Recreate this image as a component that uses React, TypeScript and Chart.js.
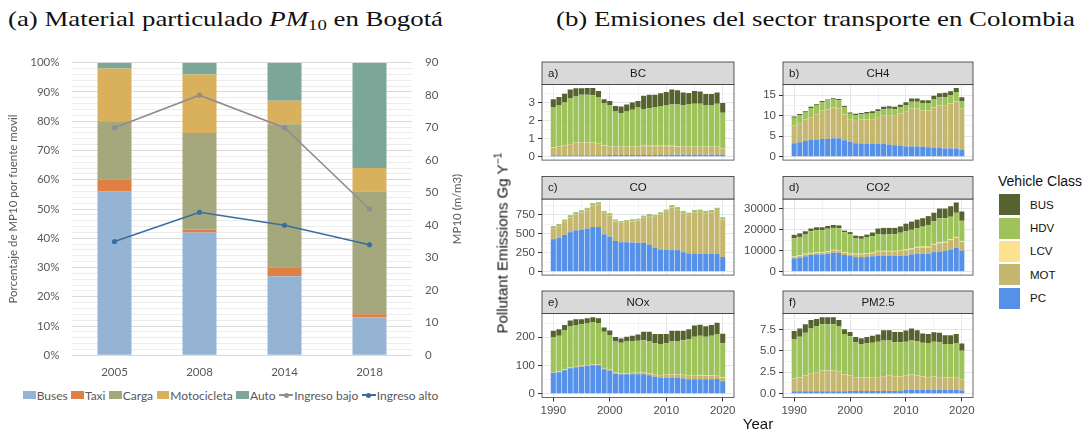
import React, { useEffect, useLayoutEffect, useRef } from 'react';
import { Chart, registerables } from 'chart.js';
Chart.register(...registerables);

// ---------------- Panel (a): PM10 in Bogotá ----------------
const surveyYears = ['2005', '2008', '2014', '2018'];
const buses = [56, 42, 27, 13];
const taxi = [4, 1, 3, 1];
const carga = [20, 33, 49, 42];
const motocicleta = [18, 20, 8, 8];
const autoShare = [2, 4, 13, 36];
const ingresoBajo = [70, 80, 70, 45];
const ingresoAlto = [35, 44, 40, 34];
const barNamesA = ['Buses', 'Taxi', 'Carga', 'Motocicleta', 'Auto'];
const barColorsA = ['#95b4d3', '#df7f44', '#a4a87c', '#d9b15c', '#7ca698'];
const lineNamesA = ['Ingreso bajo', 'Ingreso alto'];
const lineColorsA = ['#938c8f', '#3c6d9b'];

// ---------------- Panel (b): transport emissions, Colombia ----------------
const years = [
  1990, 1991, 1992, 1993, 1994, 1995, 1996, 1997, 1998, 1999,
  2000, 2001, 2002, 2003, 2004, 2005, 2006, 2007, 2008, 2009,
  2010, 2011, 2012, 2013, 2014, 2015, 2016, 2017, 2018, 2019,
  2020,
];
const vehicleClasses = ['PC', 'MOT', 'LCV', 'HDV', 'BUS']; // stack order, bottom to top
const vehicleColors = ['#5591e8', '#c5b670', '#fce28e', '#9ec35a', '#566330'];
const legendOrder = ['BUS', 'HDV', 'LCV', 'MOT', 'PC'];

// BC
const bcPC = [
  0.08, 0.08, 0.08, 0.08, 0.08, 0.08, 0.08, 0.08, 0.08, 0.08,
  0.09, 0.09, 0.09, 0.09, 0.09, 0.09, 0.09, 0.09, 0.09, 0.09,
  0.11, 0.11, 0.11, 0.11, 0.11, 0.11, 0.11, 0.11, 0.11, 0.11,
  0.11,
];
const bcMOT = [
  0.40, 0.48, 0.52, 0.60, 0.67, 0.70, 0.70, 0.70, 0.62, 0.53,
  0.47, 0.44, 0.44, 0.44, 0.44, 0.44, 0.49, 0.49, 0.49, 0.49,
  0.47, 0.47, 0.44, 0.42, 0.42, 0.42, 0.42, 0.42, 0.42, 0.42,
  0.34,
];
const bcLCV = [
  0.02, 0.02, 0.02, 0.02, 0.02, 0.02, 0.02, 0.02, 0.02, 0.02,
  0.02, 0.02, 0.02, 0.02, 0.02, 0.02, 0.02, 0.02, 0.02, 0.02,
  0.02, 0.02, 0.02, 0.02, 0.02, 0.02, 0.02, 0.02, 0.02, 0.02,
  0.02,
];
const bcHDV = [
  2.22, 2.25, 2.38, 2.52, 2.56, 2.62, 2.62, 2.60, 2.58, 2.34,
  2.27, 1.95, 1.87, 1.95, 2.05, 2.17, 2.03, 2.07, 2.12, 2.17,
  2.25, 2.28, 2.31, 2.30, 2.33, 2.38, 2.37, 2.30, 2.30, 2.38,
  1.96,
];
const bcBUS = [
  0.46, 0.47, 0.48, 0.50, 0.45, 0.36, 0.38, 0.40, 0.33, 0.21,
  0.23, 0.30, 0.35, 0.38, 0.40, 0.36, 0.74, 0.75, 0.70, 0.73,
  0.73, 0.84, 0.79, 0.70, 0.64, 0.70, 0.68, 0.62, 0.62, 0.62,
  0.54,
];

// CH4
const ch4PC = [
  3.3, 3.5, 3.8, 4.1, 4.2, 4.3, 4.4, 4.5, 4.5, 4.0,
  3.6, 3.3, 3.2, 3.1, 3.1, 3.1, 3.1, 3.0, 2.8, 2.6,
  2.5, 2.5, 2.5, 2.4, 2.3, 2.2, 2.1, 2.0, 2.0, 2.0,
  1.7,
];
const ch4MOT = [
  4.25, 4.65, 5.15, 5.55, 6.15, 6.85, 7.15, 7.45, 7.35, 6.25,
  5.55, 5.45, 5.75, 5.95, 6.05, 6.45, 6.95, 7.15, 7.35, 7.95,
  8.45, 9.15, 9.15, 8.75, 8.85, 9.75, 10.35, 10.55, 10.95, 11.45,
  9.95,
];
const ch4LCV = [
  0.05, 0.05, 0.05, 0.05, 0.05, 0.05, 0.05, 0.05, 0.05, 0.05,
  0.05, 0.05, 0.05, 0.05, 0.05, 0.05, 0.05, 0.05, 0.05, 0.05,
  0.05, 0.05, 0.05, 0.05, 0.05, 0.05, 0.05, 0.05, 0.05, 0.05,
  0.05,
];
const ch4HDV = [
  1.9, 1.9, 1.8, 2.2, 2.1, 2.1, 2.1, 2.0, 1.9, 1.8,
  1.3, 1.35, 1.35, 1.4, 1.5, 1.5, 1.5, 1.5, 1.4, 1.5,
  1.6, 1.7, 1.7, 1.8, 1.8, 2.0, 2.0, 2.0, 2.0, 2.3,
  1.9,
];
const ch4BUS = [
  0.3, 0.3, 0.3, 0.3, 0.3, 0.3, 0.3, 0.3, 0.3, 0.3,
  0.3, 0.35, 0.35, 0.4, 0.4, 0.5, 0.6, 0.6, 0.6, 0.6,
  0.7, 0.8, 0.8, 0.8, 0.8, 0.9, 1.0, 1.0, 1.0, 1.0,
  0.9,
];

// CO
const coPC = [
  429, 449, 486, 522, 546, 554, 570, 590, 590, 494,
  461, 405, 389, 389, 385, 381, 381, 357, 317, 293,
  289, 285, 285, 257, 241, 241, 237, 233, 233, 233,
  193,
];
const coMOT = [
  144, 152, 170, 193, 209, 225, 241, 285, 294, 280,
  280, 254, 254, 266, 278, 289, 328, 376, 404, 460,
  499, 564, 540, 516, 507, 543, 550, 539, 551, 579,
  492,
];
const coLCV = [
  3, 3, 3, 3, 3, 3, 3, 3, 3, 3,
  3, 3, 3, 3, 3, 3, 3, 3, 3, 3,
  3, 3, 3, 3, 3, 3, 3, 3, 3, 3,
  3,
];
const coHDV = [
  22, 22, 23, 24, 24, 25, 25, 25, 24, 22,
  22, 20, 20, 20, 20, 21, 22, 22, 22, 22,
  23, 23, 23, 23, 23, 24, 24, 24, 24, 24,
  22,
];
const coBUS = [
  4, 4, 4, 4, 4, 4, 4, 4, 4, 4,
  4, 4, 4, 4, 4, 4, 4, 4, 4, 4,
  4, 4, 4, 4, 4, 4, 4, 4, 4, 4,
  4,
];

// CO2
const co2PC = [
  6300, 6600, 7300, 7900, 8200, 8200, 8500, 8900, 8900, 7900,
  7500, 6900, 6900, 7000, 7300, 7600, 7600, 7600, 7500, 7500,
  7600, 8200, 8500, 8500, 8500, 9300, 9600, 9900, 10300, 11300,
  10000,
];
const co2MOT = [
  600, 800, 900, 700, 700, 800, 800, 1200, 1100, 1000,
  800, 1300, 1300, 1500, 1400, 2000, 2000, 2000, 2100, 2400,
  2500, 2400, 2900, 3000, 3000, 3500, 3900, 3900, 4700, 4800,
  4200,
];
const co2LCV = [
  300, 300, 300, 300, 300, 300, 300, 300, 300, 300,
  300, 300, 300, 300, 300, 300, 300, 300, 300, 300,
  400, 400, 400, 400, 400, 400, 400, 400, 400, 400,
  400,
];
const co2HDV = [
  8700, 8800, 9400, 10300, 10500, 10400, 10800, 10400, 10400, 9500,
  9200, 7400, 7100, 7600, 7900, 7900, 7700, 7900, 7900, 8300,
  8700, 8900, 8900, 9500, 10300, 10800, 11500, 11200, 10700, 11500,
  9600,
];
const co2BUS = [
  1600, 1700, 1300, 1300, 1400, 1400, 1300, 1400, 1300, 800,
  1000, 1200, 1300, 1200, 1700, 2700, 3200, 3000, 3000, 3000,
  3600, 3900, 4000, 4000, 4200, 4000, 4600, 4600, 5000, 4900,
  4400,
];

// NOx
const noxPC = [
  74, 76, 83, 90, 94, 96, 98, 101, 101, 87,
  81, 71, 69, 69, 69, 69, 69, 65, 60, 56,
  56, 57, 57, 54, 51, 51, 51, 51, 51, 52,
  44,
];
const noxMOT = [
  2, 2, 2, 3, 3, 3, 3, 3, 3, 3,
  3, 3, 3, 3, 4, 4, 5, 6, 8, 9,
  10, 11, 11, 12, 12, 12, 13, 13, 13, 13,
  12,
];
const noxLCV = [
  1, 1, 1, 1, 1, 1, 1, 1, 1, 1,
  1, 1, 1, 1, 1, 1, 1, 1, 1, 1,
  1, 1, 1, 1, 1, 1, 1, 1, 1, 1,
  1,
];
const noxHDV = [
  124, 127, 138, 144, 146, 146, 149, 149, 146, 129,
  123, 112, 108, 112, 113, 114, 115, 115, 110, 110,
  112, 118, 118, 123, 130, 138, 141, 137, 141, 146,
  122,
];
const noxBUS = [
  22, 23, 20, 22, 20, 18, 17, 17, 17, 15,
  16, 14, 15, 17, 19, 22, 30, 33, 33, 36,
  33, 36, 36, 33, 35, 40, 39, 37, 38, 40,
  34,
];

// PM2.5
const pmPC = [
  0.28, 0.28, 0.28, 0.28, 0.28, 0.28, 0.28, 0.28, 0.28, 0.28,
  0.32, 0.32, 0.32, 0.32, 0.32, 0.32, 0.32, 0.32, 0.32, 0.32,
  0.42, 0.42, 0.42, 0.42, 0.42, 0.42, 0.42, 0.42, 0.42, 0.42,
  0.38,
];
const pmMOT = [
  1.45, 1.59, 1.84, 2.09, 2.19, 2.39, 2.39, 2.39, 2.24, 1.96,
  1.80, 1.60, 1.55, 1.55, 1.60, 1.60, 1.72, 1.75, 1.72, 1.68,
  1.65, 1.75, 1.70, 1.58, 1.50, 1.55, 1.50, 1.45, 1.45, 1.50,
  1.27,
];
const pmLCV = [
  0.03, 0.03, 0.03, 0.03, 0.03, 0.03, 0.03, 0.03, 0.03, 0.03,
  0.03, 0.03, 0.03, 0.03, 0.03, 0.03, 0.03, 0.03, 0.03, 0.03,
  0.03, 0.03, 0.03, 0.03, 0.03, 0.03, 0.03, 0.03, 0.03, 0.03,
  0.03,
];
const pmHDV = [
  4.61, 4.74, 4.95, 5.20, 5.35, 5.40, 5.40, 5.40, 5.35, 4.68,
  4.55, 4.05, 3.85, 3.95, 4.00, 4.10, 4.13, 4.10, 3.93, 3.97,
  3.95, 4.05, 4.00, 3.92, 3.90, 4.05, 4.05, 3.90, 3.90, 3.90,
  3.32,
];
const pmBUS = [
  0.93, 0.96, 1.00, 1.00, 0.85, 0.80, 0.80, 0.80, 0.70, 0.55,
  0.50, 0.60, 0.70, 0.75, 0.80, 0.85, 1.20, 1.20, 1.20, 1.20,
  1.30, 1.35, 1.25, 1.05, 1.10, 1.10, 1.10, 1.00, 1.00, 1.10,
  0.85,
];

const facetLetters = ['a)', 'b)', 'c)', 'd)', 'e)', 'f)'];
const facetNames = ['BC', 'CH4', 'CO', 'CO2', 'NOx', 'PM2.5'];
const facetMajorSteps = [1, 5, 250, 10000, 100, 2.5];
const facetDecimals = [0, 0, 0, 0, 0, 1];
const facetSeries = [
  [bcPC, bcMOT, bcLCV, bcHDV, bcBUS],
  [ch4PC, ch4MOT, ch4LCV, ch4HDV, ch4BUS],
  [coPC, coMOT, coLCV, coHDV, coBUS],
  [co2PC, co2MOT, co2LCV, co2HDV, co2BUS],
  [noxPC, noxMOT, noxLCV, noxHDV, noxBUS],
  [pmPC, pmMOT, pmLCV, pmHDV, pmBUS],
];

// layout of facets (pixels)
const colGeom = [
  { x: 500, w: 240, yWidth: 42, padRight: 6 },
  { x: 742, w: 240, yWidth: 41, padRight: 9 },
];
const rowGeom = [
  { y: 61, h: 109, padTop: 23.5, padBottom: 1.5, xHeight: 0, showX: false },
  { y: 175, h: 110, padTop: 24, padBottom: 2, xHeight: 0, showX: false },
  { y: 290, h: 130, padTop: 23.5, padBottom: 0, xHeight: 22.5, showX: true },
];
const STRIP_H = 22.5;

const SANS = '"Liberation Sans", Arial, sans-serif';
const LATO = 'Lato, "Open Sans", sans-serif';

const facetPlugin = {
  id: 'facetDecor',
  afterDraw(chart: any, _args: any, opts: any) {
    const { ctx, chartArea: a } = chart;
    ctx.save();
    ctx.strokeStyle = '#444';
    ctx.lineWidth = 0.8;
    ctx.strokeRect(a.left, a.top, a.right - a.left, a.bottom - a.top);
    ctx.fillStyle = '#d9d9d9';
    ctx.fillRect(a.left, a.top - STRIP_H, a.right - a.left, STRIP_H);
    ctx.strokeStyle = '#333';
    ctx.strokeRect(a.left, a.top - STRIP_H, a.right - a.left, STRIP_H);
    ctx.fillStyle = '#1a1a1a';
    ctx.font = '11.5px ' + SANS;
    ctx.textBaseline = 'middle';
    ctx.textAlign = 'left';
    ctx.fillText(opts.letter, a.left + 6, a.top - STRIP_H / 2 + 0.5);
    ctx.textAlign = 'center';
    ctx.fillText(opts.name, (a.left + a.right) / 2, a.top - STRIP_H / 2 + 0.5);
    ctx.restore();
  },
};

function Facet({ idx }: { idx: number }) {
  const ref = useRef<HTMLCanvasElement>(null);
  const col = colGeom[idx % 2];
  const row = rowGeom[Math.floor(idx / 2)];
  useEffect(() => {
    const series = facetSeries[idx];
    const totals = years.map((_, i) => series.reduce((s, d) => s + (d[i] || 0), 0));
    const top = Math.max(...totals);
    const lo = -0.05 * top;
    const hi = 1.05 * top;
    const major = facetMajorSteps[idx];
    const minor = major / 2;
    const isMajor = (v: number) => Math.abs(v / major - Math.round(v / major)) < 1e-6;
    const yTicks: number[] = [];
    for (let k = Math.ceil(lo / minor); k * minor <= hi; k++) yTicks.push(+(k * minor).toFixed(6));
    const chart = new Chart(ref.current as HTMLCanvasElement, {
      type: 'bar',
      data: {
        datasets: vehicleClasses.map((name, k) => ({
          label: name,
          data: years.map((y, i) => ({ x: y, y: series[k][i] })),
          backgroundColor: vehicleColors[k],
          borderWidth: 0,
          barPercentage: 0.9,
          categoryPercentage: 1,
        })),
      },
      options: {
        responsive: false,
        animation: false,
        layout: { padding: { top: row.padTop, right: col.padRight, bottom: row.padBottom, left: 0 } },
        plugins: {
          legend: { display: false },
          tooltip: { enabled: false },
          facetDecor: { letter: facetLetters[idx], name: facetNames[idx] },
        } as any,
        scales: {
          x: {
            type: 'linear',
            min: 1988,
            max: 2022,
            stacked: true,
            offset: false,
            border: { display: false },
            grid: {
              offset: false,
              color: (c: any) => (c.tick && c.tick.value % 10 === 0 ? '#e6e6e6' : '#f3f3f3'),
              drawTicks: row.showX,
              tickLength: 4,
              tickColor: (c: any) => (c.tick && c.tick.value % 10 === 0 ? '#333' : 'rgba(0,0,0,0)'),
            },
            ticks: {
              display: row.showX,
              stepSize: 5,
              autoSkip: false,
              includeBounds: false,
              maxRotation: 0,
              padding: 2,
              color: '#4d4d4d',
              font: { family: SANS, size: 11.5 },
              callback: (v: any) => (Number(v) % 10 === 0 ? String(v) : ''),
            },
            afterFit: (s: any) => { s.height = row.xHeight; },
          },
          y: {
            type: 'linear',
            stacked: true,
            min: lo,
            max: hi,
            bounds: 'data',
            border: { display: false },
            grid: {
              color: (c: any) => (c.tick && isMajor(c.tick.value) ? '#e6e6e6' : '#f3f3f3'),
              drawTicks: true,
              tickLength: 4,
              tickColor: (c: any) => (c.tick && isMajor(c.tick.value) ? '#333' : 'rgba(0,0,0,0)'),
            },
            ticks: {
              autoSkip: false,
              padding: 3,
              color: '#4d4d4d',
              font: { family: SANS, size: 11.5 },
              callback: (v: any) => (isMajor(Number(v)) ? Number(v).toFixed(facetDecimals[idx]) : ''),
            },
            afterDataLimits: (s: any) => { s.min = lo; s.max = hi; },
            afterBuildTicks: (s: any) => { s.ticks = yTicks.map((v) => ({ value: v })); },
            afterFit: (s: any) => { s.width = col.yWidth; },
          },
        } as any,
      },
      plugins: [facetPlugin],
    });
    return () => chart.destroy();
  }, []);
  return (
    <canvas
      ref={ref}
      width={col.w}
      height={row.h}
      style={{ position: 'absolute', left: col.x, top: row.y, width: col.w, height: row.h }}
    />
  );
}

const rightTitlePlugin = {
  id: 'rightTitle',
  afterDraw(chart: any) {
    const { ctx, chartArea: a } = chart;
    ctx.save();
    ctx.translate(457, (a.top + a.bottom) / 2);
    ctx.rotate(-Math.PI / 2);
    ctx.font = '11.5px ' + LATO;
    ctx.fillStyle = '#595959';
    ctx.textAlign = 'center';
    ctx.textBaseline = 'middle';
    ctx.fillText('MP10 (m/m3)', 0, 0);
    ctx.restore();
  },
};

function PanelA() {
  const ref = useRef<HTMLCanvasElement>(null);
  useEffect(() => {
    const barSeries = [buses, taxi, carga, motocicleta, autoShare];
    const lineSeries = [ingresoBajo, ingresoAlto];
    const tickFont = { family: LATO, size: 11.5 };
    const chart = new Chart(ref.current as HTMLCanvasElement, {
      type: 'bar',
      data: {
        labels: surveyYears,
        datasets: [
          ...barSeries.map((d, k) => ({
            type: 'bar' as const,
            label: barNamesA[k],
            data: d,
            backgroundColor: barColorsA[k],
            borderWidth: 0,
            yAxisID: 'y',
            order: 2,
            barPercentage: 0.4,
            categoryPercentage: 1,
          })),
          ...lineSeries.map((d, k) => ({
            type: 'line' as const,
            label: lineNamesA[k],
            data: d,
            borderColor: lineColorsA[k],
            backgroundColor: lineColorsA[k],
            borderWidth: 1.6,
            pointRadius: 2.6,
            pointBorderWidth: 0,
            yAxisID: 'y2',
            order: 1,
          })),
        ],
      } as any,
      options: {
        responsive: false,
        animation: false,
        layout: { padding: { top: 22.7, right: 0, bottom: 0, left: 0 } },
        plugins: { legend: { display: false }, tooltip: { enabled: false } },
        scales: {
          x: {
            stacked: true,
            grid: { display: false, drawTicks: false },
            border: { display: false },
            ticks: { color: '#595959', font: tickFont, padding: 10 },
            afterFit: (s: any) => { s.height = 24.7; },
          },
          y: {
            stacked: true,
            min: 0,
            max: 100,
            border: { display: false },
            grid: {
              color: (c: any) => (c.tick && c.tick.value % 10 === 0 ? '#d9d9d9' : '#ececec'),
              drawTicks: false,
            },
            ticks: {
              stepSize: 2,
              autoSkip: false,
              padding: 12.5,
              color: '#595959',
              font: tickFont,
              callback: (v: any) => (Number(v) % 10 === 0 ? v + '%' : ''),
            },
            title: {
              display: true,
              text: 'Porcentaje de MP10 por fuente movil',
              color: '#595959',
              font: { family: LATO, size: 11.5 },
              padding: { top: 6, bottom: 0 },
            },
            afterFit: (s: any) => { s.width = 72; },
          },
          y2: {
            position: 'right',
            min: 0,
            max: 90,
            border: { display: false },
            grid: { display: false, drawTicks: false },
            ticks: { stepSize: 10, padding: 13, color: '#595959', font: tickFont },
            afterFit: (s: any) => { s.width = 58; },
          },
        } as any,
      },
      plugins: [rightTitlePlugin],
    });
    return () => chart.destroy();
  }, []);
  return (
    <canvas
      ref={ref}
      width={470}
      height={340}
      style={{ position: 'absolute', left: 0, top: 40, width: 470, height: 340 }}
    />
  );
}

function FitTitle({ left, target, children }: { left: number; target: number; children: any }) {
  const ref = useRef<HTMLDivElement>(null);
  useLayoutEffect(() => {
    const el = ref.current;
    if (!el) return;
    el.style.transform = 'none';
    const w = el.getBoundingClientRect().width;
    el.style.transform = 'scaleX(' + (target / w).toFixed(4) + ')';
  }, []);
  return (
    <div
      ref={ref}
      style={{
        position: 'absolute',
        left,
        top: 9,
        whiteSpace: 'nowrap',
        fontFamily: '"Liberation Serif", "Times New Roman", serif',
        fontSize: 21,
        lineHeight: '21px',
        color: '#111',
        transformOrigin: '0 50%',
      }}
    >
      {children}
    </div>
  );
}

function LegendA() {
  const items: any[] = [];
  barNamesA.forEach((n, k) => {
    items.push(
      <div key={n} style={{ display: 'flex', alignItems: 'center', marginRight: 3.5 }}>
        <div style={{ width: 12.7, height: 8, background: barColorsA[k], marginRight: 1 }} />
        <span>{n}</span>
      </div>
    );
  });
  lineNamesA.forEach((n, k) => {
    items.push(
      <div key={n} style={{ display: 'flex', alignItems: 'center', marginRight: 3.5 }}>
        <div style={{ position: 'relative', width: 14, height: 8, marginRight: 1 }}>
          <div style={{ position: 'absolute', left: 0, top: 3.2, width: 14, height: 1.6, background: lineColorsA[k] }} />
          <div style={{ position: 'absolute', left: 4.5, top: 1.5, width: 5, height: 5, borderRadius: 3, background: lineColorsA[k] }} />
        </div>
        <span>{n}</span>
      </div>
    );
  });
  return (
    <div
      style={{
        position: 'absolute',
        left: 23,
        top: 387,
        height: 16,
        display: 'flex',
        alignItems: 'center',
        fontFamily: LATO,
        fontSize: 12,
        color: '#595959',
        whiteSpace: 'nowrap',
      }}
    >
      {items}
    </div>
  );
}

function LegendB() {
  return (
    <div style={{ position: 'absolute', left: 998, top: 172, fontFamily: SANS, color: '#111' }}>
      <div style={{ fontSize: 14, lineHeight: '18px', whiteSpace: 'nowrap' }}>Vehicle Class</div>
      {legendOrder.map((n, k) => (
        <div key={n} style={{ position: 'absolute', left: 1, top: 22.3 + k * 23.3, display: 'flex', alignItems: 'center' }}>
          <div style={{ width: 21, height: 21, background: vehicleColors[vehicleClasses.indexOf(n)] }} />
          <span style={{ marginLeft: 10, fontSize: 11.5 }}>{n}</span>
        </div>
      ))}
    </div>
  );
}

export default function App() {
  return (
    <div style={{ position: 'absolute', left: 0, top: 0, width: 1092, height: 432, overflow: 'hidden', background: '#fff' }}>
      <FitTitle left={8} target={435}>
        (a) Material particulado <i>PM</i>
        <sub style={{ fontSize: '70%', verticalAlign: '-0.25em' }}>10</sub> en Bogotá
      </FitTitle>
      <FitTitle left={556} target={519}>
        (b) Emisiones del sector transporte en Colombia
      </FitTitle>
      <PanelA />
      <LegendA />
      {[0, 1, 2, 3, 4, 5].map((i) => (
        <Facet key={i} idx={i} />
      ))}
      <div
        style={{
          position: 'absolute',
          left: 501,
          top: 243,
          transform: 'translate(-50%, -50%) rotate(-90deg)',
          whiteSpace: 'nowrap',
          fontFamily: SANS,
          fontSize: 15,
          color: '#111',
        }}
      >
        Pollutant Emissions Gg Y<sup style={{ fontSize: '70%' }}>−1</sup>
      </div>
      <div
        style={{
          position: 'absolute',
          left: 758,
          top: 423,
          transform: 'translate(-50%, -50%)',
          whiteSpace: 'nowrap',
          fontFamily: SANS,
          fontSize: 15,
          color: '#111',
        }}
      >
        Year
      </div>
      <LegendB />
    </div>
  );
}
